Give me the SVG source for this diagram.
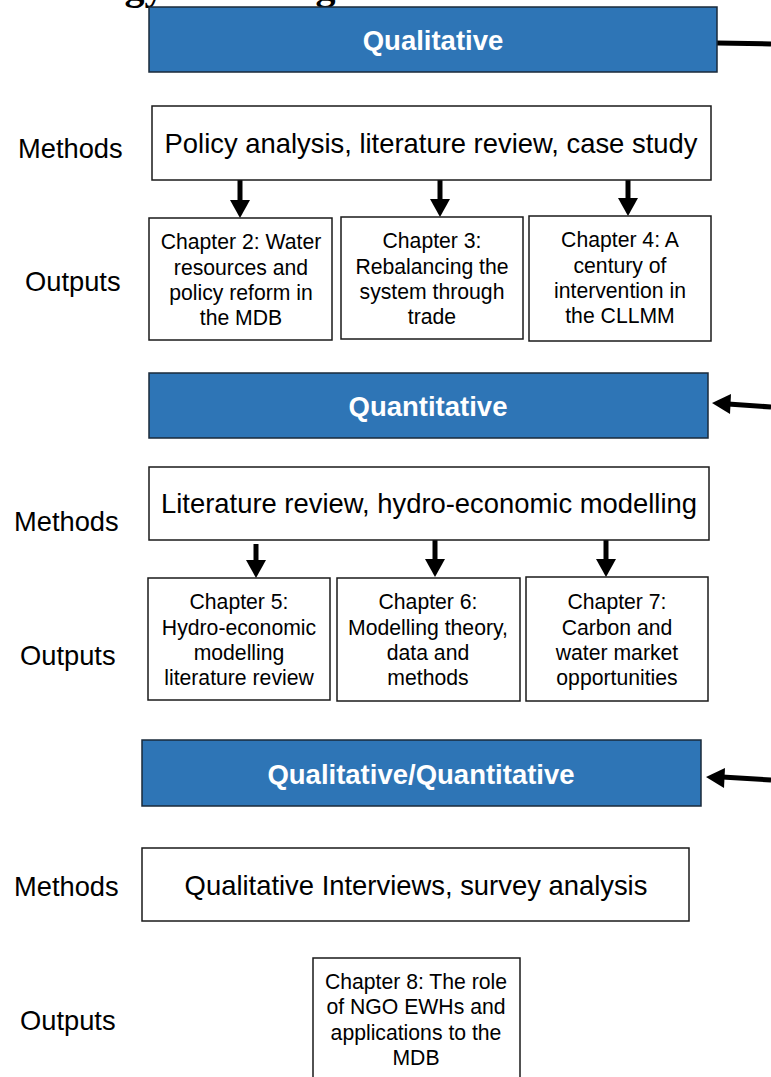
<svg xmlns="http://www.w3.org/2000/svg" width="771" height="1077" viewBox="0 0 771 1077">
<style>
.bg{fill:#ffffff}
.head{fill:#2E75B6;stroke:#1a2a3a;stroke-width:1.5}
.box{fill:#ffffff;stroke:#1a1a1a;stroke-width:1.5}
.ht{font-family:"Liberation Sans",Arial,sans-serif;font-weight:bold;font-size:27.5px;fill:#ffffff;text-anchor:middle}
.mt{font-family:"Liberation Sans",Arial,sans-serif;font-size:27.4px;fill:#000000;text-anchor:middle}
.lb{font-family:"Liberation Sans",Arial,sans-serif;font-size:27.3px;fill:#000000}
.ct{font-family:"Liberation Sans",Arial,sans-serif;font-size:21.2px;fill:#000000;text-anchor:middle}
.tt{font-family:"Liberation Serif","Times New Roman",serif;font-weight:bold;font-size:40px;fill:#000000}
.con{stroke:#000000;stroke-width:5;fill:none}
.ah{fill:#000000}
</style>
<rect class="bg" x="0" y="0" width="771" height="1077"/>
<text class="tt" x="-60" y="-1">Methodology and design</text>

<g id="connectors">
  <line class="con" x1="717" y1="43" x2="771" y2="44"/>
  <line class="con" x1="728" y1="404" x2="771" y2="407"/>
  <polygon class="ah" points="712,403 731,394 730,414"/>
  <line class="con" x1="722" y1="777" x2="771" y2="780"/>
  <polygon class="ah" points="706,777 725,768 724,788"/>

  <line class="con" x1="240" y1="180" x2="240" y2="203"/>
  <polygon class="ah" points="230,200 250,200 240,218"/>
  <line class="con" x1="440" y1="180" x2="440" y2="202"/>
  <polygon class="ah" points="430,199 450,199 440,217"/>
  <line class="con" x1="628" y1="180" x2="628" y2="201"/>
  <polygon class="ah" points="618,198 638,198 628,216"/>

  <line class="con" x1="256" y1="544" x2="256" y2="563"/>
  <polygon class="ah" points="246,560 266,560 256,578"/>
  <line class="con" x1="435" y1="540" x2="435" y2="562"/>
  <polygon class="ah" points="425,559 445,559 435,577"/>
  <line class="con" x1="606" y1="540" x2="606" y2="562"/>
  <polygon class="ah" points="596,559 616,559 606,577"/>
</g>

<g id="qual-head">
  <rect class="head" x="149" y="7" width="568" height="65"/>
  <text class="ht" x="433" y="50">Qualitative</text>
</g>
<g id="qual-methods-label"><text class="lb" x="18" y="158">Methods</text></g>
<g id="qual-methods">
  <rect class="box" x="152" y="106" width="559" height="74"/>
  <text class="mt" x="431" y="153">Policy analysis, literature review, case study</text>
</g>
<g id="qual-outputs-label"><text class="lb" x="25" y="291">Outputs</text></g>
<g id="ch2">
  <rect class="box" x="149" y="218" width="183" height="122"/>
  <text class="ct" x="241" y="249">Chapter 2: Water</text>
  <text class="ct" x="241" y="275">resources and</text>
  <text class="ct" x="241" y="300">policy reform in</text>
  <text class="ct" x="241" y="325">the MDB</text>
</g>
<g id="ch3">
  <rect class="box" x="341" y="217" width="182" height="122"/>
  <text class="ct" x="432" y="248">Chapter 3:</text>
  <text class="ct" x="432" y="274">Rebalancing the</text>
  <text class="ct" x="432" y="299">system through</text>
  <text class="ct" x="432" y="324">trade</text>
</g>
<g id="ch4">
  <rect class="box" x="529" y="216" width="182" height="125"/>
  <text class="ct" x="620" y="247">Chapter 4: A</text>
  <text class="ct" x="620" y="273">century of</text>
  <text class="ct" x="620" y="298">intervention in</text>
  <text class="ct" x="620" y="323">the CLLMM</text>
</g>

<g id="quant-head">
  <rect class="head" x="149" y="373" width="559" height="65"/>
  <text class="ht" x="428" y="416">Quantitative</text>
</g>
<g id="quant-methods-label"><text class="lb" x="14" y="531">Methods</text></g>
<g id="quant-methods">
  <rect class="box" x="149" y="467" width="560" height="73"/>
  <text class="mt" x="429" y="513">Literature review, hydro-economic modelling</text>
</g>
<g id="quant-outputs-label"><text class="lb" x="20" y="665">Outputs</text></g>
<g id="ch5">
  <rect class="box" x="148" y="578" width="182" height="122"/>
  <text class="ct" x="239" y="609">Chapter 5:</text>
  <text class="ct" x="239" y="635">Hydro-economic</text>
  <text class="ct" x="239" y="660">modelling</text>
  <text class="ct" x="239" y="685">literature review</text>
</g>
<g id="ch6">
  <rect class="box" x="337" y="578" width="183" height="123"/>
  <text class="ct" x="428" y="609">Chapter 6:</text>
  <text class="ct" x="428" y="635">Modelling theory,</text>
  <text class="ct" x="428" y="660">data and</text>
  <text class="ct" x="428" y="685">methods</text>
</g>
<g id="ch7">
  <rect class="box" x="526" y="577" width="182" height="124"/>
  <text class="ct" x="617" y="609">Chapter 7:</text>
  <text class="ct" x="617" y="635">Carbon and</text>
  <text class="ct" x="617" y="660">water market</text>
  <text class="ct" x="617" y="685">opportunities</text>
</g>

<g id="mixed-head">
  <rect class="head" x="142" y="740" width="559" height="66"/>
  <text class="ht" x="421" y="784">Qualitative/Quantitative</text>
</g>
<g id="mixed-methods-label"><text class="lb" x="14" y="896">Methods</text></g>
<g id="mixed-methods">
  <rect class="box" x="142" y="848" width="547" height="73"/>
  <text class="mt" x="416" y="895">Qualitative Interviews, survey analysis</text>
</g>
<g id="mixed-outputs-label"><text class="lb" x="20" y="1030">Outputs</text></g>
<g id="ch8">
  <rect class="box" x="313" y="958" width="207" height="130"/>
  <text class="ct" x="416" y="989">Chapter 8: The role</text>
  <text class="ct" x="416" y="1014">of NGO EWHs and</text>
  <text class="ct" x="416" y="1040">applications to the</text>
  <text class="ct" x="416" y="1065">MDB</text>
</g>
</svg>
